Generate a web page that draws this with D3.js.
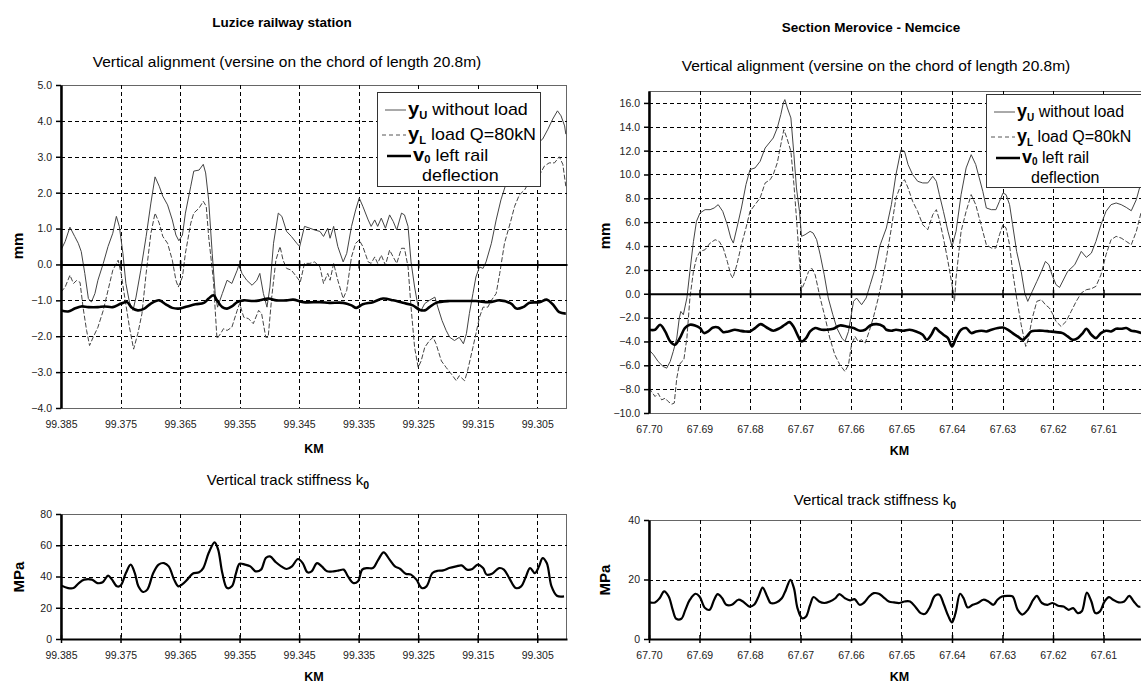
<!DOCTYPE html>
<html>
<head>
<meta charset="utf-8">
<script src="https://cdn.jsdelivr.net/npm/d3@7"></script>
<style>
  body { margin: 0; background: #fff; }
  svg { font-family: Arial, "Liberation Sans", sans-serif; }
</style>
</head>
<body>
<svg id="chart" width="1141" height="684"></svg>
<script>
/*
  data: [km, value]
*/
// Luzice railway station
var luzKmTicks = [99.385, 99.375, 99.365, 99.355, 99.345, 99.335, 99.325, 99.315, 99.305];
var luzMmTicks = [-4, -3, -2, -1, 0, 1, 2, 3, 4, 5];
var luzMpaTicks = [0, 20, 40, 60, 80];

var luzYU = [[99.3850,0.40],[99.3843,0.64],[99.3835,1.04],[99.3827,0.78],[99.3821,0.59],[99.3816,0.36],[99.3810,-0.25],[99.3804,-0.95],[99.3799,-1.05],[99.3793,-0.81],[99.3788,-0.44],[99.3779,0.03],[99.3771,0.50],[99.3763,0.87],[99.3757,1.34],[99.3752,1.06],[99.3746,0.31],[99.3741,-0.53],[99.3735,-1.05],[99.3729,-1.28],[99.3724,-0.91],[99.3716,-0.16],[99.3707,0.78],[99.3699,1.71],[99.3692,2.44],[99.3685,2.18],[99.3679,1.90],[99.3671,1.66],[99.3663,1.24],[99.3657,0.82],[99.3652,0.66],[99.3646,0.82],[99.3641,1.43],[99.3632,2.18],[99.3627,2.60],[99.3618,2.63],[99.3611,2.79],[99.3607,2.55],[99.3602,1.80],[99.3596,0.31],[99.3591,-0.81],[99.3587,-1.19],[99.3579,-0.81],[99.3571,-0.44],[99.3563,-0.53],[99.3554,-0.16],[99.3551,0.00],[99.3546,-0.25],[99.3538,-0.44],[99.3529,-0.58],[99.3521,-0.44],[99.3516,-0.25],[99.3510,-0.81],[99.3504,-1.19],[99.3499,-0.63],[99.3493,0.59],[99.3485,1.43],[99.3479,1.34],[99.3471,0.92],[99.3463,0.78],[99.3454,0.59],[99.3449,0.50],[99.3441,1.06],[99.3432,1.01],[99.3424,0.96],[99.3415,0.92],[99.3409,0.78],[99.3402,1.01],[99.3398,0.73],[99.3392,1.06],[99.3385,0.50],[99.3376,0.07],[99.3370,0.31],[99.3362,1.06],[99.3355,1.52],[99.3349,1.85],[99.3343,1.62],[99.3334,1.24],[99.3329,1.06],[99.3323,1.24],[99.3318,1.06],[99.3312,1.29],[99.3305,1.01],[99.3298,1.38],[99.3292,1.20],[99.3286,0.96],[99.3278,1.43],[99.3273,1.38],[99.3267,1.06],[99.3262,0.07],[99.3256,-0.63],[99.3250,-1.19],[99.3245,-1.28],[99.3239,-1.09],[99.3231,-1.00],[99.3222,-0.91],[99.3217,-1.19],[99.3210,-1.56],[99.3203,-1.84],[99.3197,-2.03],[99.3189,-2.12],[99.3181,-2.03],[99.3174,-2.21],[99.3169,-1.93],[99.3164,-1.37],[99.3158,-0.81],[99.3153,-0.35],[99.3147,-0.07],[99.3141,-0.11],[99.3136,0.07],[99.3127,0.59],[99.3119,1.24],[99.3111,1.80],[99.3102,2.27],[99.3094,2.74],[99.3085,3.11],[99.3074,3.49],[99.3066,3.63],[99.3058,3.57],[99.3049,3.39],[99.3041,3.49],[99.3032,3.77],[99.3024,4.05],[99.3016,4.28],[99.3010,4.14],[99.3004,3.86],[99.3002,3.63]];

var luzYL = [[99.3850,-0.77],[99.3843,-0.63],[99.3835,-0.30],[99.3829,-0.53],[99.3824,-0.45],[99.3818,-0.50],[99.3813,-1.19],[99.3807,-1.84],[99.3802,-2.26],[99.3796,-2.03],[99.3788,-1.75],[99.3779,-1.28],[99.3771,-0.72],[99.3763,-0.16],[99.3754,0.12],[99.3749,-0.25],[99.3743,-0.91],[99.3735,-1.75],[99.3728,-2.36],[99.3721,-1.93],[99.3714,-1.37],[99.3707,-0.25],[99.3699,0.87],[99.3692,1.43],[99.3685,1.15],[99.3679,0.78],[99.3671,0.59],[99.3663,0.12],[99.3657,-0.44],[99.3653,-0.63],[99.3646,-0.35],[99.3641,0.31],[99.3632,1.15],[99.3627,1.43],[99.3618,1.57],[99.3611,1.76],[99.3606,1.62],[99.3602,0.78],[99.3594,-0.44],[99.3588,-2.07],[99.3582,-1.93],[99.3577,-1.79],[99.3571,-1.84],[99.3563,-1.75],[99.3554,-1.28],[99.3550,-1.09],[99.3543,-1.47],[99.3535,-1.51],[99.3527,-1.65],[99.3518,-1.28],[99.3513,-1.37],[99.3506,-2.03],[99.3502,-2.03],[99.3496,-0.91],[99.3489,0.12],[99.3482,0.50],[99.3477,0.12],[99.3471,-0.11],[99.3463,-0.16],[99.3454,-0.35],[99.3448,-0.49],[99.3441,0.03],[99.3432,0.03],[99.3424,0.07],[99.3415,-0.07],[99.3409,-0.53],[99.3402,-0.25],[99.3398,-0.44],[99.3392,0.03],[99.3385,-0.44],[99.3376,-0.95],[99.3370,-0.72],[99.3362,0.21],[99.3355,0.59],[99.3349,0.68],[99.3343,0.50],[99.3334,0.07],[99.3329,0.03],[99.3323,0.21],[99.3318,0.03],[99.3312,0.26],[99.3305,-0.02],[99.3298,0.40],[99.3292,0.21],[99.3286,0.03],[99.3278,0.45],[99.3273,0.45],[99.3267,-0.07],[99.3262,-1.19],[99.3256,-2.31],[99.3250,-2.87],[99.3245,-2.69],[99.3239,-2.31],[99.3231,-2.12],[99.3225,-2.03],[99.3220,-2.21],[99.3211,-2.69],[99.3203,-2.87],[99.3194,-3.06],[99.3186,-3.24],[99.3181,-3.10],[99.3172,-3.24],[99.3167,-2.96],[99.3158,-2.31],[99.3153,-1.93],[99.3147,-1.47],[99.3141,-1.19],[99.3133,-1.19],[99.3127,-1.00],[99.3119,-0.81],[99.3113,-0.25],[99.3105,0.59],[99.3094,1.24],[99.3088,1.62],[99.3080,1.94],[99.3071,2.08],[99.3063,2.32],[99.3055,2.46],[99.3046,2.50],[99.3038,2.74],[99.3030,2.83],[99.3021,2.83],[99.3013,3.00],[99.3007,2.79],[99.3002,2.18]];

var luzV0 = [[99.3850,-1.28],[99.3838,-1.31],[99.3827,-1.23],[99.3816,-1.17],[99.3804,-1.19],[99.3788,-1.19],[99.3777,-1.17],[99.3763,-1.19],[99.3749,-1.09],[99.3739,-1.05],[99.3732,-1.19],[99.3721,-1.28],[99.3710,-1.23],[99.3699,-1.09],[99.3685,-1.00],[99.3674,-1.11],[99.3663,-1.21],[99.3652,-1.23],[99.3638,-1.17],[99.3624,-1.11],[99.3610,-1.07],[99.3602,-0.95],[99.3594,-0.86],[99.3588,-1.00],[99.3579,-1.19],[99.3571,-1.23],[99.3563,-1.17],[99.3554,-1.05],[99.3543,-1.00],[99.3527,-1.02],[99.3516,-1.00],[99.3502,-0.95],[99.3488,-1.00],[99.3471,-1.00],[99.3460,-0.98],[99.3443,-1.05],[99.3415,-1.05],[99.3399,-1.07],[99.3376,-1.07],[99.3362,-1.14],[99.3354,-1.21],[99.3343,-1.11],[99.3326,-1.05],[99.3309,-0.95],[99.3292,-1.00],[99.3276,-1.07],[99.3259,-1.14],[99.3248,-1.26],[99.3239,-1.28],[99.3231,-1.19],[99.3220,-1.07],[99.3197,-1.02],[99.3175,-1.02],[99.3153,-1.02],[99.3130,-1.05],[99.3113,-1.00],[99.3094,-1.09],[99.3085,-1.23],[99.3074,-1.19],[99.3063,-1.07],[99.3046,-1.05],[99.3034,-0.98],[99.3024,-1.11],[99.3013,-1.33],[99.3002,-1.37]];

var luzK0 = [[99.3850,34.3],[99.3838,32.6],[99.3829,32.6],[99.3820,35.8],[99.3811,38.0],[99.3798,38.0],[99.3789,35.8],[99.3780,36.3],[99.3771,40.5],[99.3765,38.4],[99.3756,33.7],[99.3750,34.1],[99.3741,42.2],[99.3733,47.6],[99.3726,42.2],[99.3720,33.7],[99.3712,30.1],[99.3705,31.6],[99.3695,42.2],[99.3686,47.6],[99.3677,48.6],[99.3669,46.5],[99.3660,38.0],[99.3653,33.7],[99.3647,34.8],[99.3638,38.0],[99.3629,41.8],[99.3618,42.7],[99.3611,45.4],[99.3602,55.0],[99.3592,61.9],[99.3586,57.2],[99.3579,42.2],[99.3571,32.6],[99.3563,33.7],[99.3556,42.2],[99.3550,48.2],[99.3541,47.6],[99.3532,46.5],[99.3523,43.3],[99.3514,44.4],[99.3506,51.8],[99.3499,52.9],[99.3489,49.1],[99.3480,46.5],[99.3471,44.8],[99.3462,46.5],[99.3452,51.2],[99.3444,48.6],[99.3436,42.7],[99.3429,43.3],[99.3420,48.6],[99.3412,46.5],[99.3403,43.3],[99.3392,43.3],[99.3383,43.9],[99.3375,44.4],[99.3368,40.1],[99.3359,35.8],[99.3351,36.9],[99.3344,44.4],[99.3335,45.4],[99.3326,45.4],[99.3317,50.8],[99.3308,55.5],[99.3298,50.8],[99.3289,46.5],[99.3280,44.8],[99.3271,41.8],[99.3262,41.2],[99.3253,38.0],[99.3244,32.6],[99.3236,33.7],[99.3226,42.2],[99.3217,43.7],[99.3208,43.9],[99.3198,45.4],[99.3186,46.5],[99.3177,47.1],[99.3168,44.4],[99.3159,44.8],[99.3150,47.6],[99.3141,45.4],[99.3135,41.2],[99.3126,41.8],[99.3114,45.4],[99.3106,44.4],[99.3097,39.0],[99.3086,32.6],[99.3077,33.7],[99.3070,39.0],[99.3062,45.4],[99.3054,42.2],[99.3047,46.5],[99.3041,51.8],[99.3034,48.6],[99.3026,33.7],[99.3017,27.7],[99.3005,27.3]];

// Section Merovice - Nemcice
var merKmTicks = [67.70, 67.69, 67.68, 67.67, 67.66, 67.65, 67.64, 67.63, 67.62, 67.61];
var merMmTicks = [-10, -8, -6, -4, -2, 0, 2, 4, 6, 8, 10, 12, 14, 16];
var merMpaTicks = [0, 20, 40];

var merYU = [[67.7000,-4.70],[67.6991,-5.12],[67.6982,-5.68],[67.6972,-6.10],[67.6965,-6.24],[67.6958,-5.68],[67.6952,-4.84],[67.6945,-3.72],[67.6940,-2.04],[67.6937,-1.48],[67.6932,-1.76],[67.6925,-0.36],[67.6919,1.87],[67.6912,4.39],[67.6906,6.07],[67.6899,6.77],[67.6889,7.05],[67.6879,7.05],[67.6871,7.19],[67.6863,7.47],[67.6854,6.91],[67.6845,5.79],[67.6838,4.67],[67.6833,4.25],[67.6826,5.51],[67.6817,7.19],[67.6808,9.15],[67.6800,10.41],[67.6790,10.55],[67.6780,11.10],[67.6770,12.22],[67.6762,12.64],[67.6754,13.06],[67.6746,13.90],[67.6739,15.02],[67.6734,16.00],[67.6731,16.28],[67.6726,15.58],[67.6719,14.74],[67.6713,11.66],[67.6708,8.87],[67.6702,6.91],[67.6698,4.81],[67.6691,4.95],[67.6681,5.23],[67.6675,5.09],[67.6668,4.53],[67.6661,3.27],[67.6653,1.59],[67.6645,-0.36],[67.6636,-1.76],[67.6628,-2.88],[67.6618,-3.72],[67.6612,-4.00],[67.6605,-3.16],[67.6595,-0.64],[67.6589,-0.36],[67.6579,-0.92],[67.6570,-0.36],[67.6562,0.76],[67.6552,2.15],[67.6543,4.00],[67.6530,5.51],[67.6520,7.47],[67.6511,9.99],[67.6501,12.08],[67.6494,11.94],[67.6487,10.83],[67.6478,9.99],[67.6468,9.43],[67.6458,9.29],[67.6448,9.29],[67.6438,9.85],[67.6431,9.43],[67.6425,8.31],[67.6417,6.91],[67.6408,5.23],[67.6400,3.97],[67.6392,5.23],[67.6382,8.31],[67.6372,10.55],[67.6362,11.66],[67.6353,10.83],[67.6346,9.71],[67.6339,8.59],[67.6332,7.19],[67.6322,7.05],[67.6313,7.05],[67.6306,7.75],[67.6299,8.45],[67.6293,8.31],[67.6286,7.47],[67.6280,5.79],[67.6272,3.55],[67.6263,1.87],[67.6256,0.06],[67.6250,-0.64],[67.6241,0.20],[67.6232,1.03],[67.6223,1.87],[67.6215,2.71],[67.6208,2.43],[67.6202,1.59],[67.6194,0.76],[67.6187,0.53],[67.6171,1.87],[67.6157,2.43],[67.6144,3.55],[67.6134,3.05],[67.6124,3.41],[67.6115,4.39],[67.6105,5.79],[67.6095,6.91],[67.6085,7.47],[67.6075,7.61],[67.6065,7.47],[67.6055,7.24],[67.6045,6.96],[67.6035,7.89],[67.6025,9.43]];

var merYL = [[67.7000,-7.92],[67.6995,-8.20],[67.6988,-8.62],[67.6982,-8.34],[67.6975,-8.90],[67.6968,-8.76],[67.6962,-9.04],[67.6955,-9.26],[67.6950,-9.17],[67.6945,-7.08],[67.6940,-5.96],[67.6935,-5.68],[67.6931,-5.54],[67.6925,-3.72],[67.6919,-0.36],[67.6912,1.87],[67.6906,2.99],[67.6899,3.55],[67.6889,3.69],[67.6879,4.25],[67.6869,4.53],[67.6861,4.39],[67.6853,3.83],[67.6845,2.71],[67.6838,1.59],[67.6834,1.31],[67.6826,2.43],[67.6817,4.11],[67.6808,5.51],[67.6800,6.91],[67.6790,7.47],[67.6780,8.03],[67.6770,9.29],[67.6760,9.57],[67.6754,9.99],[67.6746,10.97],[67.6739,12.50],[67.6733,13.76],[67.6727,13.06],[67.6719,11.94],[67.6713,9.15],[67.6708,6.35],[67.6702,2.71],[67.6698,0.34],[67.6691,1.03],[67.6684,1.87],[67.6678,2.15],[67.6671,1.59],[67.6661,-0.36],[67.6651,-2.04],[67.6642,-3.72],[67.6632,-5.12],[67.6622,-5.96],[67.6612,-6.52],[67.6605,-5.96],[67.6599,-4.28],[67.6592,-3.58],[67.6586,-4.00],[67.6579,-3.86],[67.6572,-4.14],[67.6564,-3.16],[67.6556,-2.04],[67.6546,-0.36],[67.6536,1.60],[67.6530,2.99],[67.6520,5.51],[67.6511,8.03],[67.6501,9.15],[67.6494,9.57],[67.6487,8.87],[67.6478,7.75],[67.6468,6.91],[67.6458,5.79],[67.6448,5.37],[67.6438,6.63],[67.6431,7.05],[67.6425,6.21],[67.6417,4.67],[67.6408,2.71],[67.6400,0.76],[67.6395,-0.64],[67.6392,1.31],[67.6382,5.23],[67.6372,6.91],[67.6362,8.31],[67.6353,7.47],[67.6346,6.35],[67.6339,5.23],[67.6332,4.11],[67.6322,3.83],[67.6313,3.83],[67.6306,4.95],[67.6299,5.79],[67.6293,5.51],[67.6286,4.11],[67.6280,1.87],[67.6272,-0.36],[67.6263,-2.60],[67.6254,-4.42],[67.6250,-4.00],[67.6241,-2.04],[67.6232,-0.64],[67.6223,-0.50],[67.6215,-0.92],[67.6207,-1.20],[67.6200,-1.76],[67.6194,-2.32],[67.6184,-2.74],[67.6174,-2.32],[67.6164,-1.48],[67.6154,-0.64],[67.6144,0.06],[67.6134,0.34],[67.6124,0.42],[67.6115,0.62],[67.6105,1.59],[67.6095,3.27],[67.6085,4.53],[67.6075,4.81],[67.6065,4.67],[67.6055,4.39],[67.6045,4.11],[67.6035,5.23],[67.6025,6.91]];

var merV0 = [[67.7000,-3.02],[67.6988,-3.02],[67.6978,-2.60],[67.6968,-3.16],[67.6958,-4.00],[67.6949,-4.28],[67.6939,-3.72],[67.6929,-2.88],[67.6919,-2.60],[67.6909,-2.66],[67.6899,-2.88],[67.6891,-3.30],[67.6883,-3.16],[67.6873,-2.83],[67.6863,-2.83],[67.6853,-3.22],[67.6843,-3.16],[67.6830,-3.02],[67.6820,-3.10],[67.6810,-3.16],[67.6800,-3.16],[67.6790,-2.88],[67.6779,-2.55],[67.6767,-2.83],[67.6754,-3.10],[67.6741,-2.88],[67.6731,-2.60],[67.6722,-2.38],[67.6714,-2.74],[67.6706,-3.44],[67.6698,-4.00],[67.6689,-3.72],[67.6681,-3.16],[67.6671,-2.88],[67.6658,-3.02],[67.6648,-3.02],[67.6635,-2.94],[67.6622,-2.66],[67.6609,-2.74],[67.6595,-2.88],[67.6582,-3.10],[67.6572,-3.02],[67.6562,-2.66],[67.6549,-2.55],[67.6536,-2.74],[67.6530,-3.02],[67.6520,-3.10],[67.6511,-3.02],[67.6497,-3.10],[67.6484,-3.02],[67.6471,-3.16],[67.6458,-3.44],[67.6450,-3.86],[67.6441,-3.44],[67.6433,-2.88],[67.6425,-3.16],[67.6417,-3.44],[67.6408,-3.72],[67.6400,-4.42],[67.6392,-3.72],[67.6382,-3.02],[67.6372,-2.88],[67.6362,-3.30],[67.6352,-3.16],[67.6342,-3.10],[67.6332,-3.16],[67.6322,-3.02],[67.6309,-2.88],[67.6299,-2.83],[67.6289,-3.02],[67.6280,-3.30],[67.6270,-3.58],[67.6260,-3.86],[67.6252,-3.58],[67.6243,-3.16],[67.6233,-3.10],[67.6220,-3.10],[67.6207,-3.16],[67.6194,-3.22],[67.6181,-3.30],[67.6171,-3.58],[67.6161,-3.86],[67.6151,-3.72],[67.6141,-3.30],[67.6134,-2.94],[67.6124,-3.44],[67.6115,-3.72],[67.6105,-3.30],[67.6095,-3.10],[67.6085,-3.16],[67.6075,-2.94],[67.6065,-2.94],[67.6055,-2.88],[67.6045,-3.10],[67.6035,-3.16],[67.6025,-3.30]];

var merK0 = [[67.7000,12.3],[67.6988,12.3],[67.6979,13.7],[67.6970,16.0],[67.6961,14.3],[67.6953,9.8],[67.6946,6.8],[67.6936,6.8],[67.6928,9.8],[67.6919,13.2],[67.6908,15.2],[67.6900,14.3],[67.6889,10.4],[67.6880,9.8],[67.6871,13.2],[67.6864,15.1],[67.6855,13.7],[67.6847,11.5],[67.6836,11.5],[67.6823,13.2],[67.6814,12.6],[67.6801,10.9],[67.6792,11.5],[67.6783,14.3],[67.6775,17.3],[67.6766,14.3],[67.6759,12.1],[67.6748,12.3],[67.6737,13.7],[67.6729,16.5],[67.6720,19.9],[67.6713,17.1],[67.6706,10.4],[67.6697,7.0],[67.6689,7.6],[67.6681,11.5],[67.6674,14.1],[67.6663,12.6],[67.6653,12.1],[67.6642,12.6],[67.6631,13.7],[67.6623,15.1],[67.6612,13.7],[67.6602,13.0],[67.6593,13.4],[67.6583,11.5],[67.6575,12.1],[67.6564,14.3],[67.6555,15.4],[67.6545,15.2],[67.6536,14.1],[67.6525,12.6],[67.6515,12.3],[67.6504,12.1],[67.6494,12.6],[67.6483,12.6],[67.6472,10.7],[67.6462,8.7],[67.6453,8.5],[67.6444,10.7],[67.6434,14.5],[67.6425,14.9],[67.6416,11.5],[67.6407,7.6],[67.6400,5.6],[67.6393,8.7],[67.6384,15.2],[67.6377,13.7],[67.6369,10.6],[67.6359,11.5],[67.6349,12.1],[67.6338,13.2],[67.6328,12.6],[67.6318,11.5],[67.6310,13.2],[67.6301,14.3],[67.6289,14.5],[67.6280,14.3],[67.6270,9.8],[67.6261,8.2],[67.6250,9.8],[67.6239,13.2],[67.6232,14.5],[67.6222,12.1],[67.6211,11.5],[67.6201,12.1],[67.6190,11.2],[67.6179,10.9],[67.6169,9.8],[67.6160,10.4],[67.6151,8.7],[67.6143,9.3],[67.6133,15.6],[67.6124,12.6],[67.6116,8.7],[67.6107,9.3],[67.6098,12.6],[67.6089,14.1],[67.6081,13.2],[67.6070,12.3],[67.6059,12.6],[67.6049,14.5],[67.6040,12.6],[67.6031,10.9],[67.6027,10.9]];

var svg = d3.select('#chart');
var clipId = 0;

// one plot area with grid, axes and lines
function panel(o) {
  var x = d3.scaleLinear().domain(o.xDomain).range([o.left, o.right]);
  var y = d3.scaleLinear().domain(o.yDomain).range([o.bottom, o.top]);
  var g = svg.append('g');

  clipId++;
  g.append('clipPath').attr('id', 'clip' + clipId)
    .append('rect').attr('x', o.left).attr('y', o.top)
    .attr('width', o.right - o.left).attr('height', o.bottom - o.top);

  // plot frame
  g.append('rect').attr('x', o.left).attr('y', o.top + 0.5)
    .attr('width', o.right - o.left - 0.5).attr('height', o.bottom - o.top)
    .attr('fill', 'none').attr('stroke', '#666').attr('stroke-width', 1);

  // dashed grid
  g.selectAll('line.hg').data(o.yTicks.filter(function(t) { return t > o.yDomain[0] && t < o.yDomain[1] && t !== 0; }))
    .enter().append('line')
      .attr('x1', o.left).attr('x2', o.right)
      .attr('y1', function(d) { return Math.round(y(d)) + 0.5; })
      .attr('y2', function(d) { return Math.round(y(d)) + 0.5; })
      .attr('stroke', '#000').attr('stroke-width', 1).attr('stroke-dasharray', '4,3');
  g.selectAll('line.vg').data(o.xTicks.slice(1))
    .enter().append('line')
      .attr('y1', o.top).attr('y2', o.bottom)
      .attr('x1', function(d) { return Math.round(x(d)) + 0.5; })
      .attr('x2', function(d) { return Math.round(x(d)) + 0.5; })
      .attr('stroke', '#000').attr('stroke-width', 1).attr('stroke-dasharray', '4,3');

  // series
  var lines = g.append('g').attr('clip-path', 'url(#clip' + clipId + ')');
  o.series.forEach(function(s) {
    var line = d3.line()
      .x(function(d) { return x(d[0]); })
      .y(function(d) { return y(d[1]); })
      .curve(s.smooth ? d3.curveCatmullRom.alpha(0.5) : d3.curveLinear);
    lines.append('path').datum(s.data)
      .attr('d', line)
      .attr('fill', 'none')
      .attr('stroke', s.color)
      .attr('stroke-width', s.width)
      .attr('stroke-dasharray', s.dash || null)
      .attr('stroke-linejoin', 'round');
  });

  // x axis line through zero, with crossing ticks
  var xAxis = g.append('g').attr('transform', 'translate(0,' + y(0) + ')')
    .call(d3.axisBottom(x).tickValues(o.xTicks).tickSize(4).tickSizeOuter(0).tickFormat(''));
  xAxis.select('.domain').attr('stroke', '#000').attr('stroke-width', 2);
  xAxis.selectAll('.tick line').attr('y1', -4).attr('stroke-width', 1.5);

  // x labels along the bottom
  var xLab = g.append('g').attr('transform', 'translate(0,' + o.bottom + ')')
    .call(d3.axisBottom(x).tickValues(o.xTicks).tickSize(0).tickPadding(13).tickFormat(d3.format(o.xFmt)));
  xLab.select('.domain').remove();
  xLab.selectAll('text').attr('fill', '#222').style('font-size', '10.5px').style('font-family', 'Arial, "Liberation Sans", sans-serif');

  // y axis
  var yAxis = g.append('g').attr('transform', 'translate(' + o.left + ',0)')
    .call(d3.axisLeft(y).tickValues(o.yTicks).tickSize(5).tickSizeOuter(0).tickPadding(4).tickFormat(d3.format(o.yFmt)));
  yAxis.select('.domain').attr('stroke', '#000').attr('stroke-width', 2.5);
  yAxis.selectAll('.tick line').attr('stroke-width', 1.5);
  yAxis.selectAll('text').attr('fill', '#222').style('font-size', '10.5px').style('font-family', 'Arial, "Liberation Sans", sans-serif');

  // axis titles
  g.append('text').attr('x', (o.left + o.labelRight) / 2).attr('y', o.kmY)
    .attr('text-anchor', 'middle').style('font-weight', 'bold').style('font-size', '12.5px').text('KM');
  g.append('text').attr('transform', 'translate(' + o.yLabelX + ',' + o.yLabelY + ') rotate(-90)')
    .attr('text-anchor', 'middle').style('font-weight', 'bold').style('font-size', '15px').text(o.yLabel);
}

function legend(x0, y0, w, h, sx) {
  var g = svg.append('g');
  g.append('rect').attr('x', x0 + 0.5).attr('y', y0 + 0.5).attr('width', w).attr('height', h)
    .attr('fill', '#fff').attr('stroke', '#333').attr('stroke-width', 1);
  var rows = [
    { sym: 'y', sub: 'U', txt: ' without load', color: '#555', width: 1, dash: null, base: 23, sx: 8, sub_dy: 4 },
    { sym: 'y', sub: 'L', txt: ' load Q=80kN', color: '#555', width: 1, dash: '4,3', base: 48, sx: 5, sub_dy: 4 },
    { sym: 'v', sub: '0', txt: ' left rail', color: '#000', width: 2.5, dash: null, base: 69, sx: 10, sub_dy: 2 }
  ];
  rows.forEach(function(r) {
    var tx = x0 + 31;
    if (r.sym === 'v') tx = x0 + 36;
    g.append('line').attr('x1', x0 + r.sx).attr('x2', tx - 2)
      .attr('y1', y0 + r.base - 5).attr('y2', y0 + r.base - 5)
      .attr('stroke', r.color).attr('stroke-width', r.width).attr('stroke-dasharray', r.dash);
    var t = g.append('text')
      .attr('transform', 'translate(' + tx + ',' + (y0 + r.base) + ') scale(' + sx + ',1)')
      .style('font-size', '16px');
    t.append('tspan').style('font-weight', 'bold').style('font-size', '18px').text(r.sym);
    t.append('tspan').style('font-weight', 'bold').style('font-size', '10px').attr('dy', r.sub_dy).text(r.sub);
    t.append('tspan').attr('dy', -r.sub_dy).text(r.txt);
  });
  g.append('text').attr('transform', 'translate(' + (x0 + 45) + ',' + (y0 + 89) + ') scale(' + sx + ',1)')
    .style('font-size', '16px').text('deflection');
}

function title(cx, y, txt, bold, size) {
  svg.append('text').attr('x', cx).attr('y', y).attr('text-anchor', 'middle')
    .style('font-weight', bold ? 'bold' : 'normal').style('font-size', size + 'px').text(txt);
}

function stiffTitle(cx, y) {
  var t = svg.append('text').attr('x', cx).attr('y', y).attr('text-anchor', 'middle').style('font-size', '15px');
  t.append('tspan').text('Vertical track stiffness  k');
  t.append('tspan').attr('dy', 4).style('font-size', '10.5px').style('font-weight', 'bold').text('0');
}

// ---- Luzice railway station
title(282, 27, 'Luzice railway station', true, 13.5);
title(287, 67, 'Vertical alignment (versine on the chord of length 20.8m)', false, 15.5);
panel({
  left: 61, right: 567, top: 85, bottom: 408, labelRight: 567,
  xDomain: [99.385, 99.300], yDomain: [-4, 5],
  xTicks: luzKmTicks, yTicks: luzMmTicks, xFmt: '.3f', yFmt: '.1f',
  kmY: 453, yLabel: 'mm', yLabelX: 23, yLabelY: 246,
  series: [
    { data: luzYU, color: '#444', width: 1 },
    { data: luzYL, color: '#444', width: 1, dash: '5,2' },
    { data: luzV0, color: '#000', width: 2.6, smooth: true }
  ]
});
legend(377, 92, 163, 94, 1.12);

stiffTitle(288, 485);
panel({
  left: 61, right: 567, top: 514, bottom: 639, labelRight: 567,
  xDomain: [99.385, 99.300], yDomain: [0, 80],
  xTicks: luzKmTicks, yTicks: luzMpaTicks, xFmt: '.3f', yFmt: 'd',
  kmY: 681, yLabel: 'MPa', yLabelX: 24, yLabelY: 577,
  series: [
    { data: luzK0, color: '#000', width: 2.2, smooth: true }
  ]
});

// ---- Section Merovice - Nemcice
title(871, 32, 'Section Merovice - Nemcice', true, 13.5);
title(876, 71, 'Vertical alignment (versine on the chord of length 20.8m)', false, 15.5);
panel({
  left: 649, right: 1154, top: 91, bottom: 413, labelRight: 1150,
  xDomain: [67.70, 67.60], yDomain: [-10, 17],
  xTicks: merKmTicks, yTicks: merMmTicks, xFmt: '.2f', yFmt: '.1f',
  kmY: 455, yLabel: 'mm', yLabelX: 610, yLabelY: 236,
  series: [
    { data: merYU, color: '#444', width: 1 },
    { data: merYL, color: '#444', width: 1, dash: '5,2' },
    { data: merV0, color: '#000', width: 2.6, smooth: true }
  ]
});
legend(986, 94, 163, 93, 1.0);

stiffTitle(875, 505);
panel({
  left: 649, right: 1154, top: 520, bottom: 639, labelRight: 1150,
  xDomain: [67.70, 67.60], yDomain: [0, 40],
  xTicks: merKmTicks, yTicks: merMpaTicks, xFmt: '.2f', yFmt: 'd',
  kmY: 681, yLabel: 'MPa', yLabelX: 610, yLabelY: 580,
  series: [
    { data: merK0, color: '#000', width: 2.2, smooth: true }
  ]
});
</script>
</body>
</html>
